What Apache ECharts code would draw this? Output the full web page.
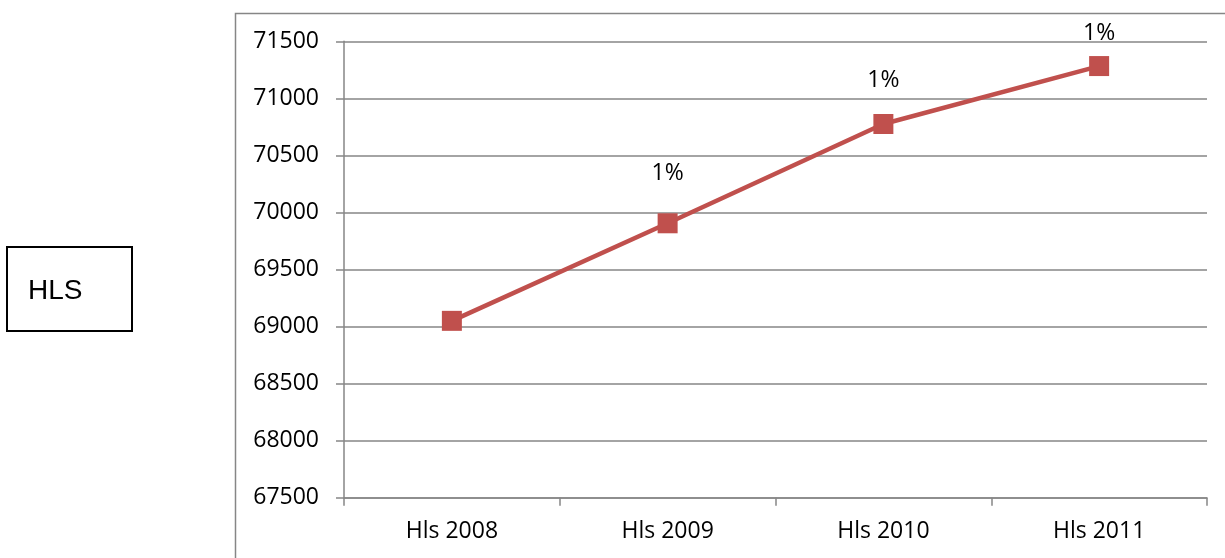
<!DOCTYPE html>
<html>
<head>
<meta charset="utf-8">
<script src="https://cdn.jsdelivr.net/npm/echarts@6/dist/echarts.min.js"></script>
<style>
html,body{margin:0;padding:0;background:#fff;}
#c{width:1225px;height:558px;}
</style>
</head>
<body>
<div id="c"></div>
<script>
const categories = ['Hls 2008', 'Hls 2009', 'Hls 2010', 'Hls 2011'];
const values = [69050, 69905, 70775, 71283];
const pctLabels = ['', '1%', '1%', '1%'];
const labelOffsets = [0, -50, -44, -33];
const yTicks = { min: 67500, max: 71500, interval: 500 };

const chart = echarts.init(document.getElementById('c'), null, { renderer: 'canvas' });
const gray = '#868686';
const font = '"Open Sans", sans-serif';

chart.setOption({
  animation: false,
  backgroundColor: '#fff',
  grid: { left: 344, right: 18, top: 41.3, bottom: 60.3, containLabel: false },
  xAxis: {
    type: 'category',
    data: categories,
    boundaryGap: true,
    axisLine: { show: true, lineStyle: { color: gray, width: 1.5 } },
    axisTick: { show: true, length: 8, interval: 0, lineStyle: { color: gray, width: 1.5 } },
    axisLabel: { color: '#000', fontFamily: font, fontSize: 23, margin: 22, lineHeight: 23 },
    splitLine: { show: false }
  },
  yAxis: {
    type: 'value',
    min: yTicks.min, max: yTicks.max, interval: yTicks.interval,
    axisLine: { show: true, lineStyle: { color: gray, width: 1.5 } },
    axisTick: { show: true, length: 8, inside: false, lineStyle: { color: gray, width: 1.5 } },
    axisLabel: { color: '#000', fontFamily: font, fontSize: 23, margin: 25, formatter: v => String(v) },
    splitLine: { show: true, lineStyle: { color: gray, width: 1.5 } }
  },
  graphic: [
    { type: 'rect', left: 233, top: 11, shape: { x: 0, y: 0, width: 1100, height: 700 },
      style: { fill: 'none', stroke: gray, lineWidth: 1.5 }, z: -1, silent: true },
    { type: 'rect', shape: { x: 7, y: 247, width: 125, height: 84 },
      style: { fill: '#fff', stroke: '#000', lineWidth: 2 } },
    { type: 'text', x: 28, y: 291, style: { text: 'HLS', fill: '#000', font: '28px "Liberation Sans", Arial, sans-serif', verticalAlign: 'middle', textAlign: 'left' } }
  ],
  series: [{
    type: 'line',
    data: values.map((v, i) => ({
      value: v,
      label: { show: pctLabels[i] !== '', formatter: pctLabels[i], offset: [0, labelOffsets[i]] }
    })),
    lineStyle: { color: '#C0504D', width: 4.5 },
    itemStyle: { color: '#C0504D', borderColor: '#C0504D', borderWidth: 0 },
    symbol: 'rect',
    symbolSize: 20,
    showAllSymbol: true,
    label: { show: true, position: 'inside', color: '#000', fontFamily: font, fontSize: 23 }
  }]
});
</script>
</body>
</html>
